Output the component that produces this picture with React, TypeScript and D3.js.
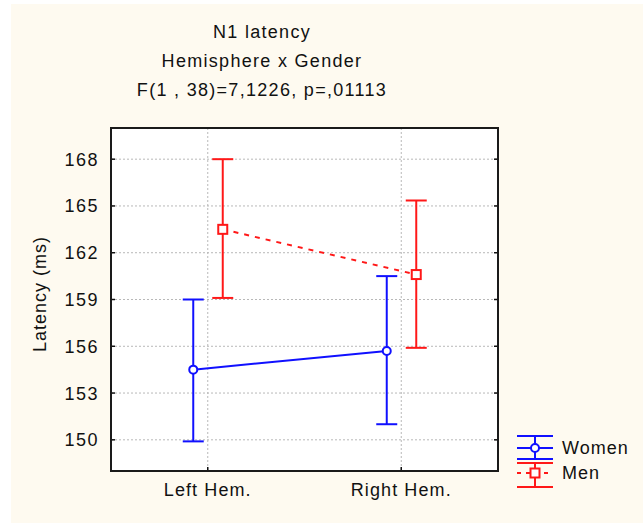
import React from "react";
import * as d3 from "d3";

const categories = ["Left Hem.", "Right Hem."];
const yTicks = [150, 153, 156, 159, 162, 165, 168];
const womenMean = [154.5, 155.7];
const womenLow = [149.9, 151.0];
const womenHigh = [159.0, 160.5];
const menMean = [163.5, 160.6];
const menLow = [159.1, 155.9];
const menHigh = [168.0, 165.35];
const titleLines = ["N1 latency", "Hemisphere x Gender", "F(1 , 38)=7,1226, p=,01113"];
const yLabel = "Latency (ms)";
const legendLabels = ["Women", "Men"];

const W = 643, H = 523;
const L = 111, R = 498, T = 128, B = 471;
const BLUE = "#1010ff";
const RED = "#ff1818";
const FONT = "'Liberation Sans', Arial, sans-serif";

export default function App() {
  const x = d3.scalePoint<string>().domain(categories).range([L, R]).padding(0.5);
  const y = d3.scaleLinear().domain([148, 170]).range([B, T]);
  const off = 14.5;
  const cap = 10.5;

  const series = [
    { name: legendLabels[0], mean: womenMean, low: womenLow, high: womenHigh, color: BLUE, dx: -off, dash: undefined as string | undefined, marker: "circle" },
    { name: legendLabels[1], mean: menMean, low: menLow, high: menHigh, color: RED, dx: off + 0.5, dash: "5,6", marker: "square" },
  ];
  const legendRows = [
    { cy: 448, top: 436, bot: 459 },
    { cy: 473, top: 463, bot: 487 },
  ];

  const line = d3.line<[number, number]>().x(d => d[0]).y(d => d[1]);

  const marker = (m: string, cx: number, cy: number, color: string, key: string) =>
    m === "circle" ? (
      <circle key={key} cx={cx} cy={cy} r={4} fill="#fff" stroke={color} strokeWidth={2} />
    ) : (
      <rect key={key} x={cx - 4.5} y={cy - 4.5} width={9} height={9} fill="#fff" stroke={color} strokeWidth={2} />
    );

  return (
    <svg width={W} height={H} style={{ position: "absolute", left: 0, top: 0 }} fontFamily={FONT}>
      <rect x={0} y={0} width={W} height={H} fill="#fff" />
      <rect x={11} y={4} width={W - 11} height={H - 4} fill="#fefaf0" />
      <rect x={L} y={T} width={R - L} height={B - T} fill="#fff" />
      {/* grid */}
      {yTicks.map(t => (
        <line key={"gy" + t} x1={L} x2={R} y1={y(t)} y2={y(t)} stroke="#b8b8b8" strokeWidth={1} strokeDasharray="2,2" />
      ))}
      {categories.map(c => (
        <line key={"gx" + c} x1={x(c)!} x2={x(c)!} y1={T} y2={B} stroke="#b8b8b8" strokeWidth={1} strokeDasharray="2,2" />
      ))}
      {/* ticks */}
      {yTicks.map(t => (
        <g key={"t" + t}>
          <line x1={L} x2={L + 4} y1={y(t)} y2={y(t)} stroke="#111" strokeWidth={1.5} />
          <line x1={R - 4} x2={R} y1={y(t)} y2={y(t)} stroke="#111" strokeWidth={1.5} />
          <text x={99} y={y(t)} dy="0.36em" textAnchor="end" fontSize={18} fill="#111" letterSpacing={1.5}>{t}</text>
        </g>
      ))}
      {categories.map(c => (
        <g key={"xt" + c}>
          <line x1={x(c)!} x2={x(c)!} y1={B} y2={B - 4} stroke="#111" strokeWidth={1.5} />
          <text x={x(c)!} y={B + 25} textAnchor="middle" fontSize={18} fill="#111" letterSpacing={1.1}>{c}</text>
        </g>
      ))}
      {/* series */}
      {series.map(s => {
        const pts: [number, number][] = categories.map((c, i) => [x(c)! + s.dx, y(s.mean[i])]);
        return (
          <g key={s.name}>
            <path d={line(pts)!} fill="none" stroke={s.color} strokeWidth={2} strokeDasharray={s.dash} />
            {categories.map((c, i) => {
              const cx = x(c)! + s.dx;
              return (
                <g key={c}>
                  <line x1={cx} x2={cx} y1={y(s.low[i])} y2={y(s.high[i])} stroke={s.color} strokeWidth={2} />
                  <line x1={cx - cap} x2={cx + cap} y1={y(s.low[i])} y2={y(s.low[i])} stroke={s.color} strokeWidth={2} />
                  <line x1={cx - cap} x2={cx + cap} y1={y(s.high[i])} y2={y(s.high[i])} stroke={s.color} strokeWidth={2} />
                  {marker(s.marker, cx, pts[i][1], s.color, "m" + c)}
                </g>
              );
            })}
          </g>
        );
      })}
      {/* frame */}
      <rect x={L} y={T} width={R - L} height={B - T} fill="none" stroke="#1a1a1a" strokeWidth={2} />
      {/* titles */}
      {titleLines.map((t, i) => (
        <text key={t} x={262} y={38 + i * 29} textAnchor="middle" fontSize={18} fill="#111" letterSpacing={1.3}>{t}</text>
      ))}
      <text transform={`translate(46,294) rotate(-90)`} textAnchor="middle" fontSize={18} fill="#111" letterSpacing={1}>{yLabel}</text>
      {/* legend */}
      {series.map((s, i) => {
        const { cy, top, bot } = legendRows[i];
        const lx1 = 517, lx2 = 553, cx = 535;
        return (
          <g key={"lg" + s.name}>
            <line x1={lx1} x2={lx2} y1={top} y2={top} stroke={s.color} strokeWidth={2} />
            <line x1={lx1} x2={lx2} y1={bot} y2={bot} stroke={s.color} strokeWidth={2} />
            <line x1={cx} x2={cx} y1={top} y2={bot} stroke={s.color} strokeWidth={2} />
            <line x1={lx1} x2={lx2} y1={cy} y2={cy} stroke={s.color} strokeWidth={2} strokeDasharray={s.dash ? "4,5" : undefined} />
            {marker(s.marker, cx, cy, s.color, "lm")}
            <text x={562} y={cy} dy="0.36em" fontSize={18} fill="#111" letterSpacing={1}>{s.name}</text>
          </g>
        );
      })}
    </svg>
  );
}
